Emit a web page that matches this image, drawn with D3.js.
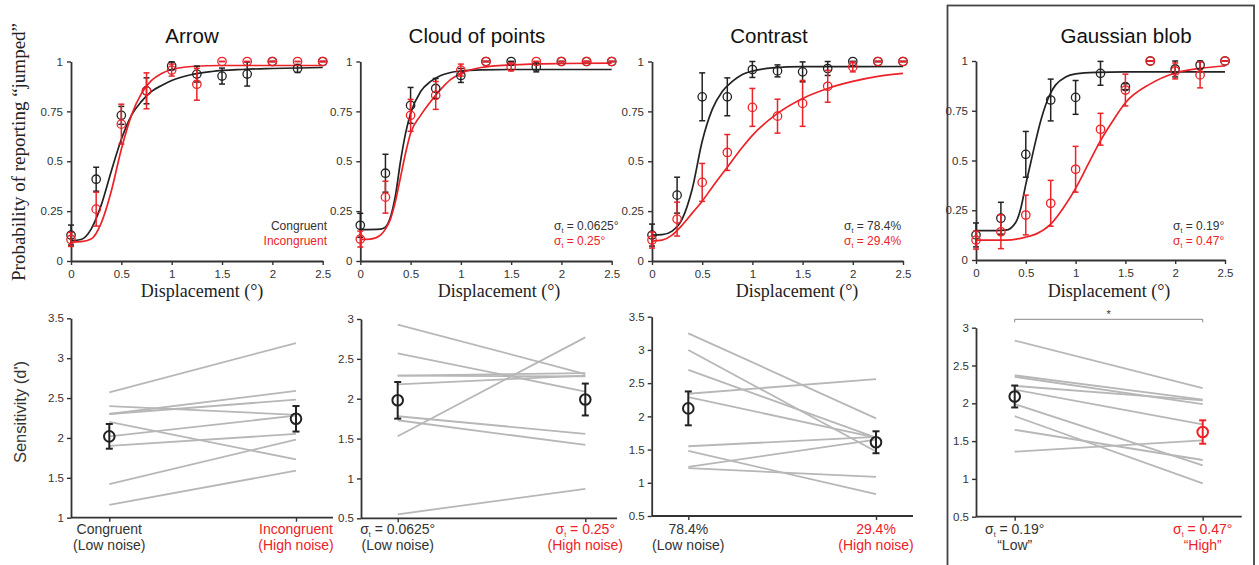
<!DOCTYPE html>
<html><head><meta charset="utf-8">
<script src="https://cdn.jsdelivr.net/npm/d3@7"></script>
<style>body{margin:0;background:#fff} svg{display:block}</style>
</head><body><svg id="c" width="1259" height="565"></svg>
<script>
// ---------------- DATA ----------------
const displacement = [0,0.25,0.5,0.75,1,1.25,1.5,1.75,2,2.25,2.5];
const xTicksTop = [0,0.5,1,1.5,2,2.5];
const yTicksTop = [0,0.25,0.5,0.75,1];
const panelTitles = ["Arrow","Cloud of points","Contrast","Gaussian blob"];

// Arrow
const arrowLow     = [0.13,0.41,0.73,0.853,0.978,0.937,0.927,0.937,1,0.965,1];
const arrowLowErr  = [0.05,0.06,0.045,0.065,0.02,0.04,0.04,0.06,0,0.02,0];
const arrowHigh    = [0.108,0.26,0.686,0.853,0.957,0.886,1,1,1,1,1];
const arrowHighErr = [0.035,0.085,0.1,0.09,0.03,0.08,0,0,0,0,0];
const arrowLowFit  = [[0,0.102],[0.1,0.108],[0.2,0.16],[0.3,0.28],[0.4,0.45],[0.5,0.61],[0.6,0.73],[0.7,0.80],[0.8,0.85],[0.9,0.88],[1.0,0.905],[1.2,0.935],[1.4,0.95],[1.7,0.96],[2.0,0.965],[2.5,0.97]];
const arrowHighFit = [[0,0.095],[0.1,0.097],[0.2,0.11],[0.3,0.19],[0.4,0.35],[0.5,0.56],[0.6,0.73],[0.7,0.84],[0.8,0.905],[0.9,0.94],[1.0,0.96],[1.2,0.975],[1.5,0.98],[2.5,0.98]];

// Cloud of points
const cloudLow     = [0.179,0.44,0.78,0.865,0.93,1,1,0.973,1,1,1];
const cloudLowErr  = [0.06,0.095,0.09,0.05,0.035,0,0,0.025,0,0,0];
const cloudHigh    = [0.11,0.32,0.73,0.83,0.957,1,0.973,1,1,1,1];
const cloudHighErr = [0.04,0.08,0.08,0.07,0.03,0,0.02,0,0,0,0];
const cloudLowFit  = [[0,0.157],[0.2,0.16],[0.25,0.17],[0.3,0.22],[0.35,0.33],[0.4,0.5],[0.45,0.64],[0.5,0.74],[0.6,0.85],[0.7,0.9],[0.8,0.93],[0.9,0.945],[1.0,0.952],[1.2,0.958],[1.5,0.96],[2.5,0.96]];
const cloudHighFit = [[0,0.108],[0.1,0.11],[0.2,0.13],[0.25,0.16],[0.3,0.21],[0.35,0.3],[0.4,0.42],[0.45,0.54],[0.5,0.64],[0.6,0.73],[0.7,0.8],[0.8,0.86],[0.9,0.91],[1.0,0.94],[1.2,0.97],[1.5,0.983],[2.0,0.99],[2.5,0.992]];

// Contrast
const contrastLow     = [0.13,0.33,0.823,0.823,0.96,0.953,0.948,0.965,1,1,1];
const contrastLowErr  = [0.055,0.09,0.12,0.095,0.04,0.03,0.05,0.035,0,0,0];
const contrastHigh    = [0.105,0.21,0.394,0.544,0.77,0.726,0.79,0.876,0.973,1,1];
const contrastHighErr = [0.04,0.085,0.095,0.09,0.095,0.085,0.115,0.08,0.025,0,0];
const contrastLowFit  = [[0,0.13],[0.1,0.132],[0.2,0.15],[0.3,0.21],[0.4,0.36],[0.5,0.6],[0.6,0.76],[0.7,0.85],[0.8,0.9],[0.9,0.935],[1.0,0.952],[1.2,0.968],[1.5,0.974],[2.5,0.975]];
const contrastHighFit = [[0,0.1],[0.1,0.105],[0.2,0.13],[0.3,0.18],[0.4,0.24],[0.5,0.3],[0.6,0.37],[0.75,0.47],[0.9,0.57],[1.0,0.63],[1.25,0.74],[1.5,0.815],[1.75,0.865],[2.0,0.9],[2.25,0.925],[2.5,0.94]];

// Gaussian blob
const blobLow     = [0.126,0.21,0.531,0.804,0.817,0.938,0.871,1,0.96,0.98,1];
const blobLowErr  = [0.06,0.08,0.115,0.105,0.085,0.06,0.015,0,0.04,0.02,0];
const blobHigh    = [0.1,0.142,0.226,0.285,0.456,0.657,0.854,1,0.95,0.93,1];
const blobHighErr = [0.045,0.085,0.1,0.115,0.115,0.08,0.08,0,0.04,0.065,0];
const blobLowFit  = [[0,0.148],[0.2,0.148],[0.3,0.15],[0.4,0.19],[0.45,0.26],[0.5,0.38],[0.55,0.49],[0.6,0.6],[0.65,0.7],[0.7,0.78],[0.75,0.84],[0.8,0.88],[0.9,0.92],[1.0,0.935],[1.2,0.943],[1.5,0.945],[2.5,0.945]];
const blobHighFit = [[0,0.1],[0.3,0.1],[0.5,0.115],[0.6,0.13],[0.75,0.18],[0.875,0.26],[1.0,0.36],[1.125,0.48],[1.25,0.6],[1.375,0.7],[1.5,0.79],[1.75,0.885],[2.0,0.94],[2.25,0.963],[2.5,0.975]];

// Legends / sigma labels
const legendLow  = ["Congruent","σ|t| = 0.0625°","σ|t| = 78.4%","σ|t| = 0.19°"];
const legendHigh = ["Incongruent","σ|t| = 0.25°","σ|t| = 29.4%","σ|t| = 0.47°"];

// Sensitivity (d') per subject
const arrowDLow     = [2.57,2.40,2.30,2.30,2.20,2.02,1.90,1.42,1.16];
const arrowDHigh    = [3.19,2.29,2.59,2.48,1.73,2.28,2.05,1.98,1.59];
const cloudDLow     = [2.93,2.57,2.29,2.29,2.18,1.78,1.73,1.53,0.55];
const cloudDHigh    = [2.31,2.09,2.28,2.32,2.29,1.56,1.42,2.77,0.87];
const contrastDLow  = [3.25,3.0,2.7,2.34,2.29,1.55,1.48,1.24,1.22];
const contrastDHigh = [1.97,1.47,1.68,2.56,1.68,1.69,0.83,1.65,1.09];
const blobDLow      = [2.83,2.37,2.35,2.23,2.18,1.99,1.83,1.65,1.36];
const blobDHigh     = [2.2,2.05,1.99,2.04,1.72,1.18,0.94,1.25,1.51];
const dMean = [[2.02,2.24],[1.98,1.99],[2.12,1.61],[2.09,1.62]];
const dSem  = [[0.155,0.16],[0.23,0.2],[0.255,0.165],[0.145,0.155]];
const yTicksBottom = [[1,1.5,2,2.5,3,3.5],[0.5,1,1.5,2,2.5,3],[0.5,1,1.5,2,2.5,3,3.5],[0.5,1,1.5,2,2.5,3]];
const catLabelLow  = [["Congruent","(Low noise)"],["σ|t| = 0.0625°","(Low noise)"],["78.4%","(Low noise)"],["σ|t| = 0.19°","“Low”"]];
const catLabelHigh = [["Incongruent","(High noise)"],["σ|t| = 0.25°","(High noise)"],["29.4%","(High noise)"],["σ|t| = 0.47°","“High”"]];

// ---------------- LAYOUT ----------------
const BLACK = "#222", RED = "#ec2228", AX = "#333", GRAY = "#b7b7b7";
const SANS = "'Liberation Sans', Arial, sans-serif";
const SERIF = "'Liberation Serif', 'Times New Roman', serif";

const topLayout = [
  {x0:71, x1:322.7, y0:261, y1:61.5, title:192, xlab:202, legX:327, legAnchor:"end"},
  {x0:360.3, x1:611.7, y0:261, y1:61.5, title:477, xlab:499, legX:554, legAnchor:"start"},
  {x0:652, x1:903, y0:261, y1:61.5, title:769, xlab:797, legX:844, legAnchor:"start"},
  {x0:976, x1:1225, y0:260, y1:61, title:1126, xlab:1109, legX:1173, legAnchor:"start"}
];
const botLayout = [
  {ax:71, xEnd:333, y0:517.7, y1:318.3, c0:109.3, c1:296},
  {ax:361, xEnd:617, y0:518.3, y1:319, c0:397.7, c1:585.3},
  {ax:651.7, xEnd:913, y0:516, y1:316.7, c0:688.3, c1:876},
  {ax:976, xEnd:1241.7, y0:516.7, y1:327.7, c0:1014.7, c1:1202.7}
];

const topData = [
  {low:arrowLow, lowErr:arrowLowErr, high:arrowHigh, highErr:arrowHighErr, lowFit:arrowLowFit, highFit:arrowHighFit},
  {low:cloudLow, lowErr:cloudLowErr, high:cloudHigh, highErr:cloudHighErr, lowFit:cloudLowFit, highFit:cloudHighFit},
  {low:contrastLow, lowErr:contrastLowErr, high:contrastHigh, highErr:contrastHighErr, lowFit:contrastLowFit, highFit:contrastHighFit},
  {low:blobLow, lowErr:blobLowErr, high:blobHigh, highErr:blobHighErr, lowFit:blobLowFit, highFit:blobHighFit}
];
const botData = [[arrowDLow,arrowDHigh],[cloudDLow,cloudDHigh],[contrastDLow,contrastDHigh],[blobDLow,blobDHigh]];

const svg = d3.select("#c");

// box round Gaussian blob
svg.append("rect").attr("x",947.5).attr("y",5.5).attr("width",306.5).attr("height",600)
  .attr("fill","none").attr("stroke","#444").attr("stroke-width",1.8);

function styleAxis(g){
  g.select(".domain").attr("stroke",AX).attr("stroke-width",1.8);
  g.selectAll(".tick line").attr("stroke",AX).attr("stroke-width",1.4);
  g.selectAll(".tick text").attr("fill",AX).style("font-family",SANS).style("font-size","11.5px");
}

function sigmaText(sel, str){
  const parts = str.split("|");
  if(parts.length===1){ sel.text(str); return; }
  sel.append("tspan").text(parts[0]);
  sel.append("tspan").text(parts[1]).attr("dy",3).style("font-size","7px");
  sel.append("tspan").text(parts[2]).attr("dy",-3);
}

// ---------------- TOP PANELS ----------------
topLayout.forEach((L,i)=>{
  const D = topData[i];
  const x = d3.scaleLinear().domain([0,2.5]).range([L.x0,L.x1]);
  const y = d3.scaleLinear().domain([0,1]).range([L.y0,L.y1]);
  const g = svg.append("g");

  g.append("text").attr("x",L.title).attr("y",43).attr("text-anchor","middle")
    .style("font-family",SANS).style("font-size","20.5px").attr("fill","#111").text(panelTitles[i]);

  const ya = g.append("g").attr("transform",`translate(${L.x0},0)`)
    .call(d3.axisLeft(y).tickValues(yTicksTop).tickFormat(d=>String(d)).tickSize(4).tickSizeOuter(0).tickPadding(4));
  styleAxis(ya);
  const xa = g.append("g").attr("transform",`translate(0,${L.y0})`)
    .call(d3.axisBottom(x).tickValues(xTicksTop).tickFormat(d=>String(d)).tickSize(4).tickSizeOuter(0).tickPadding(5));
  styleAxis(xa);

  g.append("text").attr("x",L.xlab).attr("y",297).attr("text-anchor","middle")
    .style("font-family",SERIF).style("font-size","18px").attr("fill","#222").text("Displacement (°)");

  const line = d3.line().x(d=>x(d[0])).y(d=>y(d[1])).curve(d3.curveMonotoneX);
  g.append("path").attr("d",line(D.lowFit)).attr("fill","none").attr("stroke",BLACK).attr("stroke-width",1.7);
  g.append("path").attr("d",line(D.highFit)).attr("fill","none").attr("stroke",RED).attr("stroke-width",1.7);

  function points(vals, errs, col){
    const pg = g.append("g").attr("stroke",col).attr("fill","none").attr("stroke-width",1.3);
    displacement.forEach((dx,k)=>{
      const cx = x(dx), v = vals[k], e = errs[k];
      pg.append("line").attr("x1",cx).attr("x2",cx).attr("y1",y(v-e)).attr("y2",y(v+e)).attr("stroke-width",1.5);
      pg.append("line").attr("x1",cx-3).attr("x2",cx+3).attr("y1",y(v-e)).attr("y2",y(v-e)).attr("stroke-width",1.5);
      pg.append("line").attr("x1",cx-3).attr("x2",cx+3).attr("y1",y(v+e)).attr("y2",y(v+e)).attr("stroke-width",1.5);
      pg.append("circle").attr("cx",cx).attr("cy",y(v)).attr("r",4.2);
    });
  }
  points(D.low, D.lowErr, BLACK);
  points(D.high, D.highErr, RED);

  const t1 = g.append("text").attr("x",L.legX).attr("y",230).attr("text-anchor",L.legAnchor)
    .style("font-family",SANS).style("font-size","12px").attr("fill","#333");
  sigmaText(t1, legendLow[i]);
  const t2 = g.append("text").attr("x",L.legX).attr("y",245).attr("text-anchor",L.legAnchor)
    .style("font-family",SANS).style("font-size","12px").attr("fill",RED);
  sigmaText(t2, legendHigh[i]);
});

svg.append("text").attr("transform","translate(25,152) rotate(-90)").attr("text-anchor","middle")
  .style("font-family",SERIF).style("font-size","19px").attr("fill","#222")
  .text("Probability of reporting “jumped”");

// ---------------- BOTTOM PANELS ----------------
botLayout.forEach((L,i)=>{
  const yt = yTicksBottom[i];
  const y = d3.scaleLinear().domain([yt[0], yt[yt.length-1]]).range([L.y0,L.y1]);
  const x = d3.scalePoint().domain([0,1]).range([L.c0,L.c1]);
  const g = svg.append("g");

  // subject lines
  const [lo,hi] = botData[i];
  lo.forEach((v,k)=>{
    g.append("line").attr("x1",x(0)).attr("x2",x(1)).attr("y1",y(v)).attr("y2",y(hi[k]))
      .attr("stroke",GRAY).attr("stroke-width",1.8);
  });

  const ya = g.append("g").attr("transform",`translate(${L.ax},0)`)
    .call(d3.axisLeft(y).tickValues(yt).tickFormat(d=>String(d)).tickSize(4).tickSizeOuter(0).tickPadding(3));
  styleAxis(ya);
  // x axis baseline
  g.append("line").attr("x1",L.ax).attr("x2",L.xEnd).attr("y1",L.y0).attr("y2",L.y0)
    .attr("stroke",AX).attr("stroke-width",1.8);
  const xa = g.append("g").attr("transform",`translate(0,${L.y0})`)
    .call(d3.axisBottom(x).tickFormat("").tickSize(4).tickSizeOuter(0));
  xa.select(".domain").remove();
  xa.selectAll(".tick line").attr("stroke",AX).attr("stroke-width",1.4);

  // means
  [0,1].forEach(c=>{
    const col = (i===3 && c===1) ? RED : BLACK;
    const m = dMean[i][c], e = dSem[i][c], cx = x(c);
    const mg = g.append("g").attr("stroke",col).attr("stroke-width",2).attr("fill","none");
    mg.append("line").attr("x1",cx).attr("x2",cx).attr("y1",y(m-e)).attr("y2",y(m+e));
    mg.append("line").attr("x1",cx-3.5).attr("x2",cx+3.5).attr("y1",y(m-e)).attr("y2",y(m-e));
    mg.append("line").attr("x1",cx-3.5).attr("x2",cx+3.5).attr("y1",y(m+e)).attr("y2",y(m+e));
    mg.append("circle").attr("cx",cx).attr("cy",y(m)).attr("r",5.3);
  });

  // category labels
  [[catLabelLow[i],"#333",0],[catLabelHigh[i],RED,1]].forEach(([lab,col,c])=>{
    const t1 = g.append("text").attr("x",x(c)).attr("y",534).attr("text-anchor","middle")
      .style("font-family",SANS).style("font-size","14px").attr("fill",col);
    sigmaText(t1, lab[0]);
    g.append("text").attr("x",x(c)).attr("y",550).attr("text-anchor","middle")
      .style("font-family",SANS).style("font-size","14px").attr("fill",col).text(lab[1]);
  });

  if(i===3){
    const by = 319.3;
    g.append("path").attr("d",`M${x(0)},${by+3}V${by}H${x(1)}V${by+3}`)
      .attr("fill","none").attr("stroke","#888").attr("stroke-width",1);
    g.append("text").attr("x",(x(0)+x(1))/2).attr("y",318).attr("text-anchor","middle")
      .style("font-family",SANS).style("font-size","11px").attr("fill","#333").text("*");
  }
});

svg.append("text").attr("transform","translate(26,412) rotate(-90)").attr("text-anchor","middle")
  .style("font-family",SANS).style("font-size","16.5px").attr("fill","#333")
  .text("Sensitivity (d')");
</script>
</body></html>
